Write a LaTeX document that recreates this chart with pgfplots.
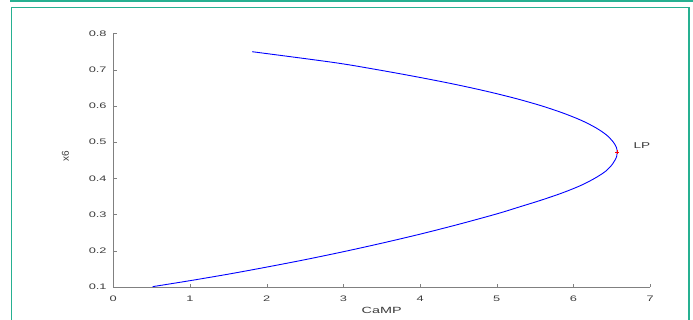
\documentclass[border=0pt]{standalone}
\usepackage{pgfplots}
\pgfplotsset{compat=1.18}
\usepackage{fontspec}
\setmainfont{Liberation Sans}
\newfontfamily\widefont[FakeStretch=1.6]{Liberation Sans}
\definecolor{frame}{RGB}{38,176,145}
\definecolor{axgray}{RGB}{128,128,128}
\definecolor{txtgray}{RGB}{60,60,60}
\begin{document}
\begin{tikzpicture}[x=1pt,y=1pt]
\path[use as bounding box] (0,0) rectangle (693,-320);
\draw[frame,line width=1.6pt] (10,-1.2) -- (693,-1.2);
\draw[frame,line width=1.6pt] (11.5,-320) -- (11.5,-7.5) -- (689,-7.5) -- (689,-320);
\begin{axis}[
  at={(113.3pt,-287pt)}, anchor=south west,
  scale only axis, width=536.9pt, height=253.4pt,
  xmin=0, xmax=7, ymin=0.1, ymax=0.8,
  axis lines=left, axis line style={axgray,-},
  xtick={0,1,...,7}, ytick={0.1,0.2,...,0.8},
  yticklabel style={/pgf/number format/fixed,/pgf/number format/fixed zerofill,/pgf/number format/precision=1,
     anchor=east, inner sep=0pt, xshift=-6.5pt},
  xticklabel style={anchor=center, inner sep=0pt, yshift=-12pt},
  tick style={axgray}, tick align=inside, major tick length=3.5pt,
  ticklabel style={font=\widefont\fontsize{8}{9}\selectfont, text=txtgray},
  /pgf/number format/assume math mode=true,
  xlabel={CaMP}, ylabel={x6},
  xlabel style={font=\widefont\fontsize{9}{10}\selectfont, text=txtgray,
     at={(axis description cs:0.5,0)}, anchor=center, yshift=-23pt},
  ylabel style={font=\fontsize{10}{11}\selectfont, text=txtgray,
     at={(axis description cs:-0.089,0.517)}, anchor=center},
  clip=false,
]
\addplot[blue, line width=0.9pt, smooth] coordinates {
(1.81,0.750)
(2.88,0.720)
(3.45,0.700)
(3.97,0.680)
(4.45,0.660)
(4.88,0.640)
(5.26,0.620)
(5.59,0.600)
(5.87,0.580)
(6.105,0.560)
(6.29,0.540)
(6.43,0.520)
(6.52,0.500)
(6.56,0.485)
(6.57,0.472)
(6.562,0.460)
(6.51,0.440)
(6.42,0.420)
(6.275,0.400)
(6.09,0.380)
(5.855,0.360)
(5.58,0.340)
(5.30,0.3215)
(5.00,0.302)
(4.50,0.273)
(4.00,0.246)
(3.50,0.221)
(3.00,0.1975)
(2.50,0.1755)
(2.00,0.155)
(1.50,0.1355)
(1.00,0.1175)
(0.514,0.101)
};
\addplot[red, only marks, mark=+, mark size=2pt, line width=0.5pt] coordinates {(6.57,0.472)};
\node[anchor=west, inner sep=0pt, font=\widefont\fontsize{8.5}{9}\selectfont, text=txtgray] at (axis cs:6.78,0.492) {LP};
\end{axis}
\end{tikzpicture}
\end{document}
